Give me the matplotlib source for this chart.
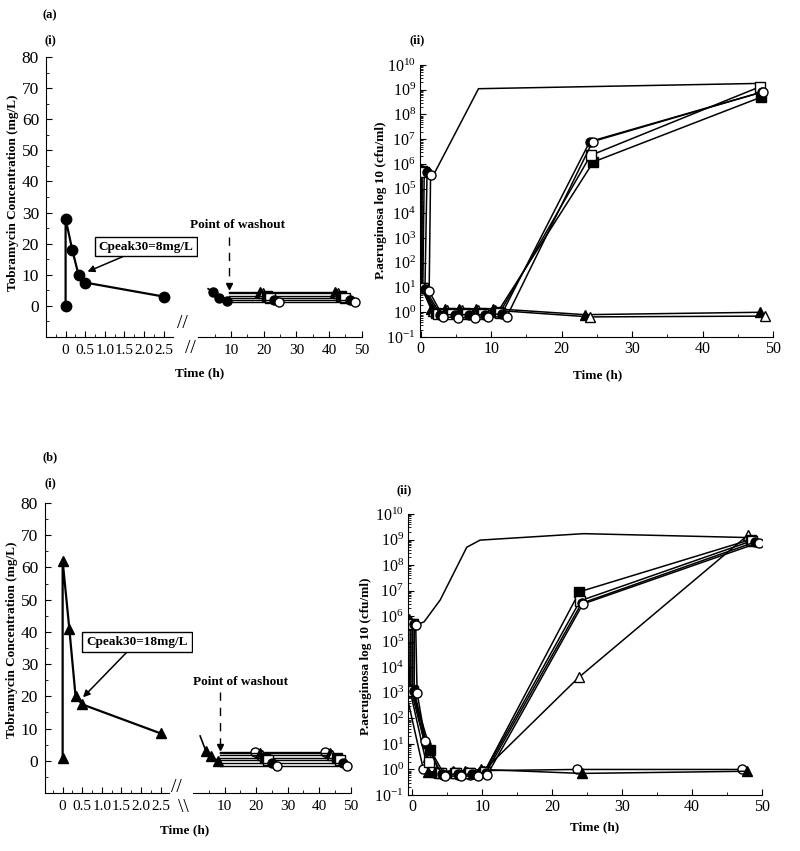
import numpy as np
import matplotlib
matplotlib.use("Agg")
import matplotlib.pyplot as plt
from matplotlib.ticker import MultipleLocator, FixedLocator, LogLocator, NullFormatter, LogFormatterMathtext

plt.rcParams['font.family'] = ['Liberation Serif', 'DejaVu Serif']
plt.rcParams['mathtext.fontset'] = 'stix'

# ---------------- data ----------------
# (a)(i) tobramycin concentration, first 2.5 h
a_pk_t = [0, 0, 0.17, 0.33, 0.5, 2.5]
a_pk_c = [0, 28, 18, 10, 7.5, 3]
# (a)(i) after break
a_tail_t = [3.0, 4.5, 6.3, 8.8]
a_tail_c = [5.5, 4.6, 2.5, 1.7]
a_wash_t = 9.4
a_late_t24 = [18.9, 19.8, 21.0, 21.9, 23.1, 24.7]
a_late_t48 = [41.8, 42.7, 43.6, 44.9, 46.4, 47.9]
a_late_c = [4.6, 4.1, 3.3, 2.6, 1.9, 1.1]

# (b)(i)
b_pk_t = [0, 0, 0.17, 0.33, 0.5, 2.5]
b_pk_c = [1, 62, 41, 20, 17.5, 8.5]
b_tail_t = [2.2, 4.0, 5.6, 8.0]
b_tail_c = [7.7, 3.1, 1.4, 0.0]
b_wash_t = 8.5
b_late_t24 = [19.6, 21.2, 21.8, 22.8, 23.7, 24.9, 26.5]
b_late_t48 = [41.8, 43.4, 44.0, 45.6, 46.6, 47.6, 48.8]
b_late_c = [2.7, 2.3, 1.9, 0.9, 0.3, -0.6, -1.5]

# (a)(ii) P. aeruginosa counts (cfu/ml)
a_ctrl_t = [1.4, 2.0, 6.3, 8.2, 48.0]
a_ctrl_cfu = [3.5e5, 4.5e5, 1e8, 1.1e9, 1.8e9]
a_ii_t = [
    [0.0, 0.0, 1.5, 3.5, 5.5, 7.8, 10.3, 23.3, 48.2],
    [0.1, 0.1, 1.8, 3.8, 5.8, 8.1, 10.6, 24.0, 48.8],
    [0.2, 0.2, 2.2, 4.2, 6.2, 8.5, 10.9, 24.5, 48.3],
    [0.5, 0.3, 2.5, 4.5, 6.5, 8.8, 11.2, 24.1, 48.1],
    [0.9, 0.6, 2.8, 4.8, 6.8, 9.1, 11.5, 24.0, 48.4],
    [1.4, 1.2, 3.2, 5.3, 7.7, 9.6, 12.2, 24.4, 48.6],
]
a_ii_cfu = [
    [6e5, 12, 1.3, 1.4, 1.4, 1.4, 1.4, 0.8, 1.0],
    [5.5e5, 10, 1.1, 1.2, 1.2, 1.2, 1.2, 0.65, 0.7],
    [5e5, 10, 0.9, 0.9, 0.9, 0.9, 1.0, 1.2e6, 5e8],
    [4.5e5, 10, 0.85, 0.85, 0.85, 0.85, 0.95, 2.2e6, 1.3e9],
    [4.5e5, 9, 0.8, 0.8, 0.8, 0.8, 0.85, 8e6, 8e8],
    [3.5e5, 7, 0.65, 0.6, 0.6, 0.65, 0.65, 8e6, 8.3e8],
]

# (b)(ii)
b_ctrl_t = [0.5, 1.7, 4.0, 7.8, 9.7, 24.5, 47.8]
b_ctrl_cfu = [4.5e5, 6e5, 4.3e6, 5e8, 9.5e8, 1.7e9, 1.2e9]
b_ii_t = [
    [-1.0, -1.0, 1.6, 4.4, 6.6, 8.3, 10.0, 23.5, 47.1],
    [-0.5, -0.4, 2.3, 3.3, 5.9, 7.6, 9.9, 24.2, 47.8],
    [-0.2, -0.2, 2.3, 3.6, 6.0, 7.9, 10.2, 23.8, 48.0],
    [0.0, 0.0, 2.6, 3.9, 6.1, 8.1, 10.3, 23.9, 48.4],
    [0.1, 0.1, 2.4, 4.1, 6.3, 8.3, 10.4, 24.0, 48.6],
    [0.3, 0.3, 2.0, 4.2, 6.5, 8.5, 10.5, 24.2, 49.0],
    [0.5, 0.7, 1.9, 4.7, 7.0, 9.4, 10.7, 24.4, 49.5],
]
b_ii_cfu = [
    [6e5, 1.5e3, 1.0, 0.6, 0.6, 0.6, 0.9, 1.0, 1.0],
    [8e5, 1.6e3, 0.8, 0.8, 0.9, 0.9, 1.0, 0.7, 0.85],
    [6e5, 1.4e3, 3.0, 0.8, 0.8, 0.8, 0.9, 4e3, 1.5e9],
    [5e5, 1.3e3, 6.0, 0.7, 0.7, 0.7, 0.8, 9e6, 1.0e9],
    [5e5, 1.2e3, 2.0, 0.7, 0.7, 0.7, 0.8, 4e6, 9e8],
    [5e5, 1.2e3, 10, 0.65, 0.65, 0.65, 0.7, 3.2e6, 8e8],
    [4.5e5, 1.0e3, 13, 0.55, 0.55, 0.55, 0.6, 3e6, 7.5e8],
]

# marker styles
a_mk = ['^', '^', 's', 's', 'o', 'o']
a_fc = ['k', 'w', 'k', 'w', 'k', 'w']
b_mk = ['o', '^', '^', 's', 's', 'o', 'o']
b_fc = ['w', 'k', 'w', 'k', 'w', 'k', 'w']

W, H = 800, 851
fig = plt.figure(figsize=(8, 8.51), dpi=100)


def box(x0, y0, x1, y1):
    return fig.add_axes([x0 / W, 1 - y1 / H, (x1 - x0) / W, (y1 - y0) / H])


def ftext(x, y, s, **kw):
    fig.text(x / W, 1 - y / H, s, ha='center', va='center', **kw)


YTICK = 12.5
XTICK = 11
LAB = 9.5


def style_conc(axl, axr, xlim_l):
    for ax in (axl, axr):
        ax.set_ylim(-10, 80)
        ax.spines['top'].set_visible(False)
        ax.spines['right'].set_visible(False)
        ax.tick_params(direction='in', which='major', length=4, pad=5)
        ax.tick_params(axis='y', labelsize=YTICK)
        ax.tick_params(axis='x', labelsize=XTICK)
        ax.tick_params(direction='in', which='minor', length=2.5)
    axl.set_xlim(*xlim_l)
    axl.yaxis.set_major_locator(FixedLocator(range(0, 81, 10)))
    axl.yaxis.set_minor_locator(MultipleLocator(5))
    axl.set_xticks([0, 0.5, 1.0, 1.5, 2.0, 2.5])
    axl.set_xticklabels(['0', '0.5', '1.0', '1.5', '2.0', '2.5'])
    axl.xaxis.set_minor_locator(MultipleLocator(0.25))
    axr.set_xlim(0, 50)
    axr.spines['left'].set_visible(False)
    axr.set_yticks([])
    axr.set_xticks([10, 20, 30, 40, 50])
    axr.xaxis.set_minor_locator(FixedLocator([5, 15, 25, 35, 45]))


def style_cfu(ax, xlim):
    ax.set_yscale('log')
    ax.set_ylim(1e-1, 1e10)
    ax.set_xlim(*xlim)
    ax.spines['top'].set_visible(False)
    ax.spines['right'].set_visible(False)
    ax.yaxis.set_major_locator(LogLocator(base=10, numticks=20))
    ax.yaxis.set_major_formatter(LogFormatterMathtext())
    ax.yaxis.set_minor_locator(LogLocator(base=10, subs=np.arange(2, 10), numticks=20))
    ax.yaxis.set_minor_formatter(NullFormatter())
    ax.set_xticks([0, 10, 20, 30, 40, 50])
    ax.xaxis.set_minor_locator(MultipleLocator(5))
    ax.tick_params(direction='in', which='major', length=4, pad=3)
    ax.tick_params(axis='y', labelsize=11.5)
    ax.tick_params(axis='x', labelsize=XTICK + 0.5)
    ax.tick_params(direction='in', which='minor', length=2)


def draw_conc(axl, axr, pk_t, pk_c, pk_mk, tail_t, tail_c, tail_mk,
              wash_t, late_t24, late_t48, late_c, mks, fcs, ms):
    axl.plot(pk_t, pk_c, color='k', lw=1.6, marker=pk_mk, ms=ms, mfc='k', mec='k',
             clip_on=False)
    axr.plot(tail_t, tail_c, color='k', lw=1.2, marker=tail_mk, ms=ms - 1, mfc='k',
             mec='k', markevery=[1, 2, 3], clip_on=False)
    for t24, t48, c, mk, fc in zip(late_t24, late_t48, late_c, mks, fcs):
        axr.plot([wash_t, t24, t48], [c, c, c], color='k', lw=1.0, marker=mk, ms=ms - 1,
                 mfc=fc, mec='k', mew=1.0, markevery=[1, 2], clip_on=False)


def draw_cfu(ax, ctrl_t, ctrl_cfu, ts, cfus, mks, fcs):
    ax.plot(ctrl_t, ctrl_cfu, color='k', lw=1.1)
    for t, v, mk, fc in zip(ts, cfus, mks, fcs):
        ax.plot(t, v, color='k', lw=1.1, marker=mk, ms=6.5, mfc=fc, mec='k', mew=1.0)


def washout(ax, t, y_top, y_bot, y_text):
    ax.text(t + (y_text[0]), y_text[1], 'Point of washout', ha='center', va='center',
            fontsize=LAB, fontweight='bold')
    ax.plot([t, t], [y_top, y_bot + 2.2], color='k', lw=1.0, ls=(0, (6, 5)), clip_on=False)
    ax.plot([t], [y_bot + 1.2], marker='v', color='k', ms=5, clip_on=False)


# ---------------- panel (a) ----------------
a_l = box(46, 57, 172.6, 337)
a_r = box(198.3, 57, 361.7, 337)
style_conc(a_l, a_r, (-0.5, 2.73))
draw_conc(a_l, a_r, a_pk_t, a_pk_c, 'o', a_tail_t, a_tail_c, 'o',
          a_wash_t, a_late_t24, a_late_t48, a_late_c, a_mk, a_fc, 7.5)
a_l.annotate('Cpeak30=8mg/L', xy=(0.56, 11), xytext=(2.05, 19), fontsize=LAB,
             fontweight='bold', ha='center', va='center', annotation_clip=False,
             bbox=dict(boxstyle='square,pad=0.25', fc='w', ec='k', lw=1.0),
             arrowprops=dict(arrowstyle='-|>', color='k', lw=1.1, mutation_scale=10,
                             shrinkA=0, shrinkB=0))
washout(a_r, a_wash_t, 22.3, 5.2, (2.7, 26))

a_ii = box(420, 65, 773, 337)
style_cfu(a_ii, (-0.1, 50))
draw_cfu(a_ii, a_ctrl_t, a_ctrl_cfu, a_ii_t, a_ii_cfu, a_mk, a_fc)

# ---------------- panel (b) ----------------
b_l = box(45, 503, 168.5, 793)
b_r = box(193.2, 503, 350.7, 793)
style_conc(b_l, b_r, (-0.45, 2.7))
draw_conc(b_l, b_r, b_pk_t, b_pk_c, '^', b_tail_t, b_tail_c, '^',
          b_wash_t, b_late_t24, b_late_t48, b_late_c, b_mk, b_fc, 7.5)
b_l.annotate('Cpeak30=18mg/L', xy=(0.52, 19.7), xytext=(1.9, 37), fontsize=LAB,
             fontweight='bold', ha='center', va='center', annotation_clip=False,
             bbox=dict(boxstyle='square,pad=0.3', fc='w', ec='k', lw=1.0),
             arrowprops=dict(arrowstyle='-|>', color='k', lw=1.1, mutation_scale=10,
                             shrinkA=0, shrinkB=0))
washout(b_r, b_wash_t, 21.3, 3.0, (6.4, 24.4))

b_ii = box(408, 514, 762, 795)
style_cfu(b_ii, (-0.6, 50))
draw_cfu(b_ii, b_ctrl_t, b_ctrl_cfu, b_ii_t, b_ii_cfu, b_mk, b_fc)

# ---------------- labels ----------------
for s, x, y in [('(a)', 50, 15), ('(i)', 50, 40), ('(ii)', 417, 40),
                ('(b)', 50, 457), ('(i)', 50, 483), ('(ii)', 404, 490)]:
    ftext(x, y, s, fontsize=9, fontweight='bold')

for x, y in [(200, 373), (598, 375), (185, 830), (595, 827)]:
    ftext(x, y, 'Time (h)', fontsize=LAB, fontweight='bold')

ftext(13, 193, 'Tobramycin Concentration (mg/L)', fontsize=LAB, fontweight='bold', rotation=90)
ftext(12, 640, 'Tobramycin Concentration (mg/L)', fontsize=LAB, fontweight='bold', rotation=90)
ftext(381, 200, 'P.aeruginosa log 10 (cfu/ml)', fontsize=LAB, fontweight='bold', rotation=90)
ftext(366, 656, 'P.aeruginosa log 10 (cfu/ml)', fontsize=LAB, fontweight='bold', rotation=90)

# axis break marks
for x, y, s in [(182, 323, '//'), (190, 348, '//'), (176, 787, '//'), (183, 808, '\\\\')]:
    ftext(x, y, s, fontsize=14)

fig.savefig('out.png', dpi=100)
